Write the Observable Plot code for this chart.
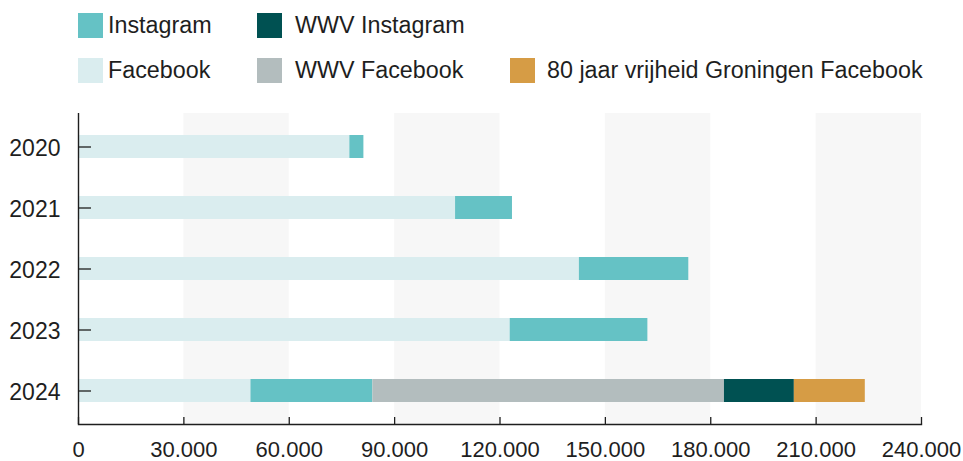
<!DOCTYPE html>
<html><head><meta charset="utf-8">
<script src="https://cdn.jsdelivr.net/npm/d3@7"></script>
<script src="https://cdn.jsdelivr.net/npm/@observablehq/plot@0.6"></script>
<style>
html,body{margin:0;padding:0;background:#fff;}
body{font-family:"Liberation Sans",Arial,sans-serif;color:#1e1e1e;width:963px;height:461px;overflow:hidden;}
#legend{height:100px;box-sizing:border-box;padding:13px 0 0 78px;display:grid;grid-template-columns:25px 154px 25px 228px 25px auto;grid-template-rows:25px 25px;row-gap:20px;align-items:center;font-size:23.3px;}
.sw{width:25px;height:25px;}
.lb{white-space:nowrap;line-height:25px;letter-spacing:0px;}
#chart svg{display:block;}
</style></head><body>
<div id="legend"></div><div id="chart"></div>
<script>
// ---- data ----
const years = ["2020", "2021", "2022", "2023", "2024"];
const seriesNames = ["Facebook", "Instagram", "WWV Facebook", "WWV Instagram", "80 jaar vrijheid Groningen Facebook"];
const facebook      = [77250, 107350, 142600, 122900, 49100];
const instagram     = [4000, 16200, 31150, 39200, 34700];
const wwvFacebook   = [0, 0, 0, 0, 100100];
const wwvInstagram  = [0, 0, 0, 0, 19900];
const vrijheid80    = [0, 0, 0, 0, 20200];
const xTicks = [0, 30000, 60000, 90000, 120000, 150000, 180000, 210000, 240000];
const legendRows = [["Instagram", "WWV Instagram"], ["Facebook", "WWV Facebook", "80 jaar vrijheid Groningen Facebook"]];

// ---- styles ----
const seriesColors = ["#daedef", "#65c2c5", "#b3bdbe", "#005152", "#d69c45"];
const ink = "#1e1e1e";
const labelPad = [5, 13, 12];

const seriesValues = [facebook, instagram, wwvFacebook, wwvInstagram, vrijheid80];
const rows = [];
seriesNames.forEach((s, k) => years.forEach((y, i) => {
  const v = seriesValues[k][i];
  if (v > 0) rows.push({year: y, series: s, value: v});
}));
const bands = xTicks.filter((d, i) => i % 2 === 1).map(d => [d, xTicks[xTicks.indexOf(d) + 1]]);

// legend
const legend = document.getElementById("legend");
legendRows.forEach(r => {
  for (let c = 0; c < 3; c++) {
    const name = r[c];
    const sw = document.createElement("div");
    const lb = document.createElement("div");
    sw.className = "sw"; lb.className = "lb";
    if (name) {
      sw.style.background = seriesColors[seriesNames.indexOf(name)];
      lb.textContent = name;
      lb.style.paddingLeft = labelPad[c] + "px";
    }
    legend.appendChild(sw); legend.appendChild(lb);
  }
});

const nl = d3.formatLocale({decimal: ",", thousands: ".", grouping: [3], currency: ["€", ""]});
const fmt = nl.format(",d");

const chart = Plot.plot({
  width: 963,
  height: 361,
  marginTop: 13,
  marginBottom: 37,
  marginLeft: 78,
  marginRight: 42,
  style: {fontFamily: "Liberation Sans, Arial, sans-serif", fontSize: "22px", color: ink, background: "#fff", overflow: "visible"},
  x: {domain: [0, 240000]},
  y: {domain: years, paddingInner: 0.63, paddingOuter: 0.34},
  color: {domain: seriesNames, range: seriesColors},
  marks: [
    Plot.rect(bands, {x1: d => d[0], x2: d => d[1], fill: "#f7f7f7"}),
    Plot.barX(rows, {y: "year", x: "value", fill: "series"}),
    Plot.ruleX([0], {stroke: ink, strokeWidth: 1.4}),
    Plot.frame({anchor: "bottom", stroke: ink, strokeWidth: 1.4}),
    Plot.axisX(xTicks, {tickSize: -7, fill: "none", stroke: ink, strokeWidth: 1.3, label: null}),
    Plot.axisX(xTicks, {tickSize: 0, tickPadding: 17, tickFormat: fmt, fontSize: 22, fill: ink, label: null}),
    Plot.axisY(years, {tickSize: -13, fill: "none", stroke: ink, strokeWidth: 1.3, label: null}),
    Plot.axisY(years, {tickSize: 0, tickPadding: 18, dy: 2, fontSize: 23, fill: ink, label: null})
  ]
});
document.getElementById("chart").appendChild(chart);
</script>
</body></html>
